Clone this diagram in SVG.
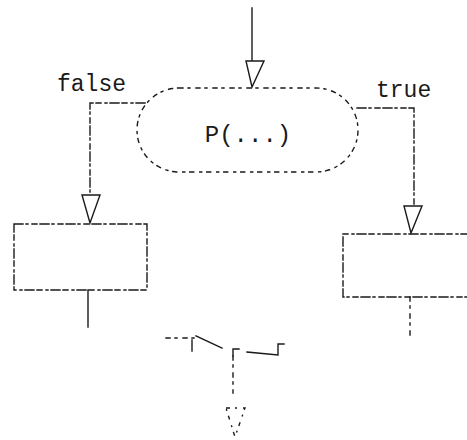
<svg xmlns="http://www.w3.org/2000/svg" width="467" height="440" viewBox="0 0 467 440">
  <style>
    .ln { fill: none; stroke: #1a1a1a; stroke-width: 1.4; stroke-linecap: square; }
    .dash { stroke-dasharray: 9 3 2 4 5 3; }
    .dot { stroke-dasharray: 4 5 2 6; }
    .head { fill: #fff; stroke: #1a1a1a; stroke-width: 1.4; stroke-linejoin: miter; }
    .lbl { font-family: "Liberation Mono", "DejaVu Sans Mono", monospace; fill: #1a1a1a; }
  </style>

  <rect width="467" height="440" fill="#fff"/>

  <!-- decision node -->
  <g id="decision">
    <rect class="ln dot" x="137" y="88" width="221" height="84" rx="42" ry="42"/>
    <text class="lbl" x="248" y="142" font-size="24" text-anchor="middle">P(...)</text>
  </g>

  <!-- false branch process -->
  <g id="false-box">
    <rect class="ln dash" x="14" y="224" width="133" height="66"/>
  </g>

  <!-- true branch process -->
  <g id="true-box">
    <path class="ln dash" d="M470,234 H343 V297 H470"/>
  </g>

  <!-- branch labels -->
  <g id="labels">
    <text class="lbl" x="57" y="91" font-size="23">false</text>
    <text class="lbl" x="376" y="97" font-size="23">true</text>
  </g>

  <!-- connectors -->
  <g id="connectors">
    <!-- entry -->
    <path class="ln" d="M252,8 V62"/>
    <polygon class="head" points="246,61 264,61 252,87"/>

    <!-- false branch -->
    <path class="ln dash" d="M145,103 H90 V195"/>
    <polygon class="head" points="82,195 100,195 90,223"/>

    <!-- true branch -->
    <path class="ln dash" d="M357,108 H414 V206"/>
    <polygon class="head" points="404,206 422,206 411,233"/>

    <!-- exits from boxes -->
    <path class="ln" d="M88,290 V327"/>
    <path class="ln dot" d="M410,297 V335"/>

    <!-- merge -->
    <path class="ln dot" d="M166,338 H196"/>
    <path class="ln" d="M192,340 V351"/>
    <path class="ln" d="M196,336 L222,348"/>
    <path class="ln" d="M247,352 L278,355 V344 H284"/>
    <path class="ln" d="M239,349 H233 V356"/>
    <path class="ln dot" d="M233,356 V393"/>
    <polygon class="head dot" points="226,408 245,408 235,437"/>
  </g>
</svg>
